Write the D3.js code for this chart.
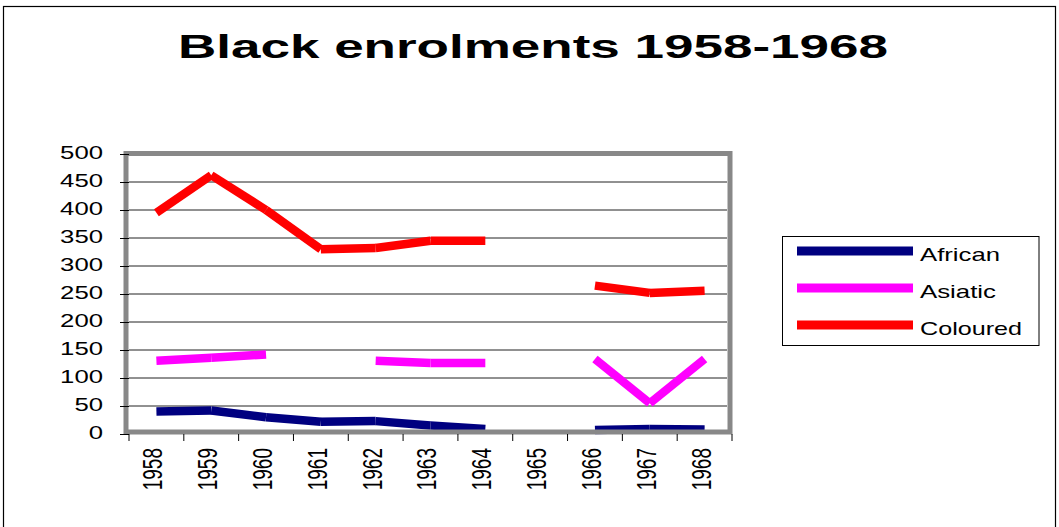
<!DOCTYPE html>
<html>
<head>
<meta charset="utf-8">
<script src="https://cdn.jsdelivr.net/npm/d3@7"></script>
<style>
  body { margin: 0; background: #fff; }
  svg { display: block; font-family: "Liberation Sans", Arial, sans-serif; }
</style>
</head>
<body>
<svg id="chart"></svg>
<script>
const years = ['1958', '1959', '1960', '1961', '1962', '1963', '1964', '1965', '1966', '1967', '1968'];
const african = [40, 42, 30, 22, 23, 15, 9, null, 7, 9, 8];
const asiatic = [131, 136, 142, null, 131, 127, 127, null, 134, 55, 134];
const coloured = [395, 462, 400, 330, 332, 345, 345, null, 265, 252, 256];
const yTicks = [0, 50, 100, 150, 200, 250, 300, 350, 400, 450, 500];
const seriesNames = ['African', 'Asiatic', 'Coloured'];
const seriesColors = ['#000080', '#ff00ff', '#ff0000'];

const width = 1059, height = 527;
const svg = d3.select('#chart').attr('width', width).attr('height', height);

// outer chart border
svg.append('rect')
  .attr('x', 3.5).attr('y', 6.5)
  .attr('width', 1052).attr('height', 540)
  .attr('fill', '#fff').attr('stroke', '#000').attr('stroke-width', 1.2);

// title (source text is stretched horizontally)
svg.append('text')
  .attr('x', 178).attr('y', 58)
  .attr('font-size', 33).attr('font-weight', 'bold')
  .attr('textLength', 710).attr('lengthAdjust', 'spacingAndGlyphs')
  .text('Black enrolments 1958-1968');

const xScale = d3.scaleBand().domain(years).range([129, 732]).padding(0);
const yScale = d3.scaleLinear().domain([0, 500]).range([434, 154]);

// gridlines
svg.append('g')
  .selectAll('line')
  .data(yTicks.filter(d => d > 0 && d < 500))
  .enter()
  .append('line')
  .attr('x1', 129).attr('x2', 727)
  .attr('y1', d => yScale(d)).attr('y2', d => yScale(d))
  .attr('stroke', '#222').attr('stroke-width', 1);

// series, drawn segment by segment like the original
const series = [african, asiatic, coloured];
const line = d3.line()
  .x(d => xScale(d.year) + xScale.bandwidth() / 2)
  .y(d => yScale(d.value));

series.forEach((values, i) => {
  const segments = [];
  for (let k = 0; k < values.length - 1; k++) {
    if (values[k] != null && values[k + 1] != null) {
      segments.push([{year: years[k], value: values[k]}, {year: years[k + 1], value: values[k + 1]}]);
    }
  }
  svg.append('g')
    .selectAll('path')
    .data(segments)
    .enter()
    .append('path')
    .attr('d', line)
    .attr('fill', 'none')
    .attr('stroke', seriesColors[i])
    .attr('stroke-width', 8.5)
    .attr('stroke-linecap', 'butt');
});

// plot area frame
svg.append('rect')
  .attr('x', 126).attr('y', 153.5)
  .attr('width', 604).attr('height', 278.5)
  .attr('fill', 'none').attr('stroke', '#888').attr('stroke-width', 5);

// y axis
const yAxis = svg.append('g')
  .attr('transform', 'translate(129,0)')
  .call(d3.axisLeft(yScale).tickValues(yTicks).tickSize(9).tickPadding(0));
yAxis.select('.domain').remove();
yAxis.selectAll('line').attr('stroke', '#000');
yAxis.selectAll('text')
  .attr('font-size', 18).attr('fill', '#000')
  .attr('font-family', '"Liberation Sans", Arial, sans-serif')
  .attr('x', -26 / 1.43).attr('dy', '0.24em')
  .attr('transform', 'scale(1.43,1)');

// x axis: labels at band centres, ticks at band edges
const xAxis = svg.append('g')
  .attr('transform', 'translate(0,434)')
  .call(d3.axisBottom(xScale).tickSize(0));
xAxis.select('.domain').remove();
xAxis.selectAll('text')
  .attr('font-size', 19).attr('fill', '#000')
  .attr('font-family', '"Liberation Sans", Arial, sans-serif')
  .attr('x', 0).attr('y', 0).attr('dy', '0.35em')
  .attr('text-anchor', 'end')
  .attr('transform', 'translate(-4,14) scale(1.5,1) rotate(-90)');

const edges = years.map(d => xScale(d)).concat([xScale(years[years.length - 1]) + xScale.bandwidth()]);
xAxis.selectAll('.edge')
  .data(edges)
  .enter()
  .append('line')
  .attr('class', 'edge')
  .attr('x1', d => d).attr('x2', d => d)
  .attr('y1', 0).attr('y2', 7)
  .attr('stroke', '#000');

// legend
const legend = svg.append('g');
legend.append('rect')
  .attr('x', 782.5).attr('y', 236.5)
  .attr('width', 256.5).attr('height', 109)
  .attr('fill', '#fff').attr('stroke', '#000').attr('stroke-width', 1);

const legendY = [251, 288, 325];
const legendWidths = [80, 76, 102];
const items = legend.selectAll('.item')
  .data(seriesNames)
  .enter()
  .append('g')
  .attr('class', 'item');

items.append('line')
  .attr('x1', 797).attr('x2', 913)
  .attr('y1', (d, i) => legendY[i]).attr('y2', (d, i) => legendY[i])
  .attr('stroke', (d, i) => seriesColors[i])
  .attr('stroke-width', 9);

items.append('text')
  .attr('x', 920).attr('y', (d, i) => legendY[i] + 10)
  .attr('font-size', 19)
  .attr('textLength', (d, i) => legendWidths[i])
  .attr('lengthAdjust', 'spacingAndGlyphs')
  .text(d => d);
</script>
</body>
</html>
